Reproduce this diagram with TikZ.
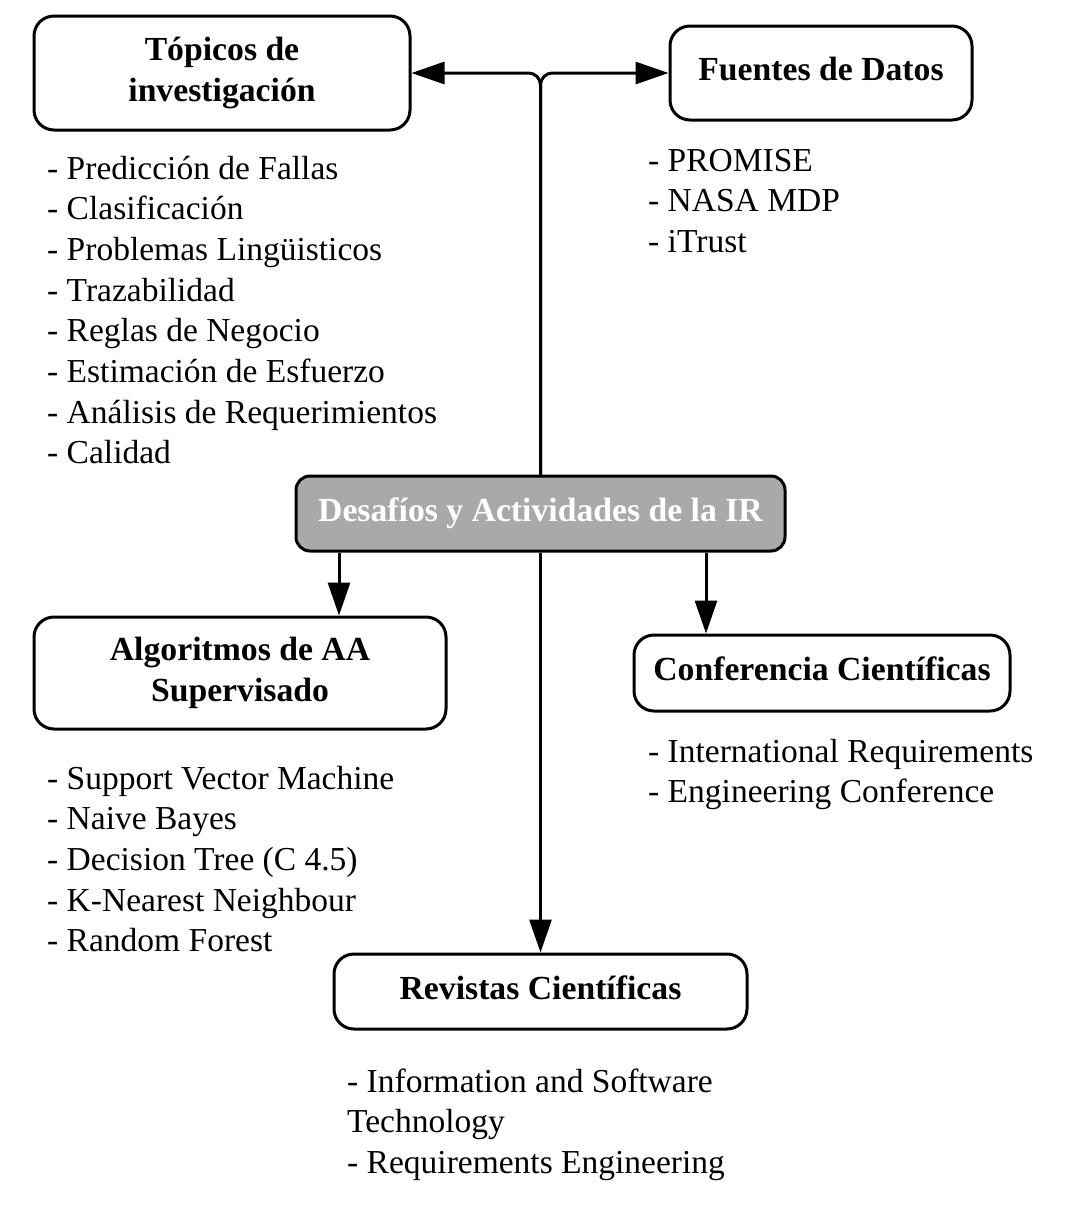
\documentclass[tikz,border=0pt]{standalone}
\usepackage{fontspec}
\setmainfont{Liberation Serif}
\usetikzlibrary{arrows.meta,calc}
\definecolor{boxgray}{RGB}{169,169,169}
\begin{document}
\begin{tikzpicture}[x=1pt,y=-1pt,
  box/.style={draw, line width=3pt, rounded corners=20pt, inner sep=0pt,
    font=\fontsize{33.7}{40.5}\selectfont\bfseries, align=center},
  onebox/.style={box, text height=23pt, text depth=8pt},
  listtext/.style={inner sep=0pt, anchor=base west, font=\fontsize{33.5}{40.7}\selectfont},
  arr/.style={line width=3pt, -{Triangle[length=33pt,width=22pt]}},
]
\useasboundingbox (0,0) rectangle (1069,1224);

\node[box, minimum width=376pt, minimum height=114pt] (t) at (222,73) {Tópicos de\\investigación};
\node[onebox, minimum width=302pt, minimum height=94pt] (f) at (821,73) {Fuentes de Datos};
\node[onebox, fill=boxgray, text=white, rounded corners=14pt, minimum width=489pt, minimum height=75pt] (d) at (540.5,513.5) {Desafíos y Actividades de la IR};
\node[box, minimum width=412pt, minimum height=112pt] (a) at (240,673) {Algoritmos de AA\\Supervisado};
\node[onebox, minimum width=376pt, minimum height=76pt] (c) at (822,673) {Conferencia Científicas};
\node[onebox, minimum width=413pt, minimum height=75pt] (r) at (540.5,991.5) {Revistas Científicas};

\node[listtext] (lt) at (47,179) {\begin{tabular}[t]{@{}l@{}}
- Predicción de Fallas\\
- Clasificación\\
- Problemas Lingüisticos\\
- Trazabilidad\\
- Reglas de Negocio\\
- Estimación de Esfuerzo\\
- Análisis de Requerimientos\\
- Calidad
\end{tabular}};
\node[listtext] (lf) at (648,171) {\begin{tabular}[t]{@{}l@{}}
- PROMISE\\
- NASA MDP\\
- iTrust
\end{tabular}};
\node[listtext] (la) at (47,789) {\begin{tabular}[t]{@{}l@{}}
- Support Vector Machine\\
- Naive Bayes\\
- Decision Tree (C 4.5)\\
- K-Nearest Neighbour\\
- Random Forest
\end{tabular}};
\node[listtext] (lc) at (648,762) {\begin{tabular}[t]{@{}l@{}}
- International Requirements\\
- Engineering Conference
\end{tabular}};
\node[listtext] (lr) at (347,1092) {\begin{tabular}[t]{@{}l@{}}
- Information and Software\\
Technology\\
- Requirements Engineering
\end{tabular}};

\coordinate (j) at (d.north |- t.east);
\draw[arr, rounded corners=12pt] (d.north) -- (j) -- (t.east);
\draw[arr, rounded corners=12pt] (d.north) -- (j) -- (f.west);

\coordinate (p1) at (339,0);
\coordinate (p2) at (706,0);
\draw[arr] (d.south -| p1) -- (a.north -| p1);
\draw[arr] (d.south -| p2) -- (c.north -| p2);
\draw[arr] (d.south) -- (r.north);
\end{tikzpicture}
\end{document}
